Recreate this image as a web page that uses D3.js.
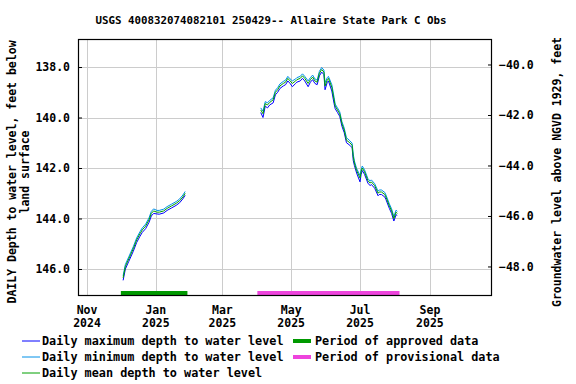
<!DOCTYPE html>
<html><head><meta charset="utf-8">
<script src="https://cdn.jsdelivr.net/npm/d3@7"></script>
<style>
body{margin:0;background:#fff;}
text{font-family:"DejaVu Sans Mono",monospace;font-weight:bold;font-size:11px;fill:#000;}
</style></head>
<body><svg id="c" width="576" height="384"></svg>
<script>
const title = "USGS 400832074082101 250429-- Allaire State Park C Obs";
const leftTicks = [138, 140, 142, 144, 146];
const rightTicks = [-40, -42, -44, -46, -48];
const monthTicks = ["2024-11-01","2025-01-01","2025-03-01","2025-05-01","2025-07-01","2025-09-01"];
const monthLabels = [["Nov","2024"],["Jan","2025"],["Mar","2025"],["May","2025"],["Jul","2025"],["Sep","2025"]];
const datum = 97.9;

const dates = [
 "2024-12-03","2024-12-05","2024-12-08","2024-12-12","2024-12-15","2024-12-18","2024-12-20","2024-12-23","2024-12-26","2024-12-28","2024-12-30",
 "2025-01-02","2025-01-04","2025-01-08","2025-01-11","2025-01-15","2025-01-19","2025-01-22","2025-01-25","2025-01-27",
 null,
 "2025-04-04","2025-04-06","2025-04-08","2025-04-10","2025-04-12","2025-04-15","2025-04-17","2025-04-19","2025-04-21","2025-04-24","2025-04-26","2025-04-28","2025-04-30",
 "2025-05-02","2025-05-05","2025-05-06","2025-05-09","2025-05-11","2025-05-13","2025-05-16","2025-05-18","2025-05-20","2025-05-22","2025-05-24","2025-05-26","2025-05-28","2025-05-30","2025-05-31",
 "2025-06-02","2025-06-03","2025-06-06","2025-06-08","2025-06-09","2025-06-11","2025-06-13","2025-06-15","2025-06-17","2025-06-19","2025-06-22","2025-06-24","2025-06-25","2025-06-26","2025-06-28",
 "2025-07-01","2025-07-02","2025-07-03","2025-07-05","2025-07-08","2025-07-10","2025-07-11","2025-07-14","2025-07-17","2025-07-18","2025-07-20","2025-07-23","2025-07-24","2025-07-27","2025-07-29","2025-07-31",
 "2025-08-02","2025-08-03"
];
const maxDepth = [
 146.45,146.0,145.7,145.3,144.95,144.7,144.55,144.4,144.15,143.9,143.8,
 143.82,143.83,143.78,143.68,143.58,143.48,143.38,143.22,143.08,
 null,
 139.8,140.0,139.55,139.62,139.5,139.42,139.1,139.0,138.85,138.75,138.7,138.55,138.65,
 138.78,138.65,138.6,138.55,138.45,138.55,138.78,138.6,138.5,138.65,138.7,138.35,138.2,138.3,138.9,
 138.6,138.55,138.95,139.45,139.65,139.8,139.95,140.35,140.6,141.0,141.1,141.2,141.7,141.9,142.2,
 142.55,142.25,142.1,142.25,142.6,142.7,142.65,142.8,143.1,143.05,143.05,143.15,143.25,143.6,143.8,144.1,
 143.85,143.88
];
const minDepth = [
 146.27,145.82,145.52,145.12,144.77,144.52,144.37,144.22,143.97,143.72,143.62,
 143.68,143.68,143.63,143.53,143.43,143.33,143.23,143.07,142.93,
 null,
 139.62,139.75,139.37,139.42,139.32,139.22,138.92,138.82,138.67,138.57,138.52,138.37,138.47,
 138.55,138.47,138.42,138.37,138.27,138.37,138.55,138.42,138.32,138.47,138.52,138.17,138.02,138.12,138.62,
 138.42,138.37,138.7,139.2,139.47,139.62,139.77,140.17,140.42,140.8,140.92,141.02,141.45,141.72,142.02,
 142.3,142.07,141.92,142.07,142.42,142.52,142.47,142.62,142.92,142.87,142.87,142.97,143.07,143.42,143.62,143.92,
 143.67,143.72
];
const meanDepth = [
 146.35,145.9,145.6,145.2,144.85,144.6,144.45,144.3,144.05,143.8,143.7,
 143.75,143.75,143.7,143.6,143.5,143.4,143.3,143.15,143.0,
 null,
 139.7,139.85,139.45,139.5,139.4,139.3,139.0,138.9,138.75,138.65,138.6,138.45,138.55,
 138.65,138.55,138.5,138.45,138.35,138.45,138.65,138.5,138.4,138.55,138.6,138.25,138.1,138.2,138.75,
 138.5,138.45,138.8,139.3,139.55,139.7,139.85,140.25,140.5,140.9,141.0,141.1,141.55,141.8,142.1,
 142.4,142.15,142.0,142.15,142.5,142.6,142.55,142.7,143.0,142.95,142.95,143.05,143.15,143.5,143.7,144.0,
 143.75,143.8
];
const approvedPeriods = [["2024-12-01","2025-01-29"]];
const provisionalPeriods = [["2025-04-01","2025-08-05"]];

const colors = {max:"#0000ff", min:"#0090e8", mean:"#00a000", approved:"#009900", provisional:"#ee44dd"};

const parse = d3.utcParse("%Y-%m-%d");
const L = 78, R = 492, T = 39, B = 296;
const svg = d3.select("#c");

const x = d3.scaleUtc().domain([parse("2024-10-24"), parse("2025-10-26")]).range([L, R]);
const y = d3.scaleLinear().domain([136.89, 147.07]).range([T, B]);
const yR = d3.scaleLinear().domain([datum - 136.89, datum - 147.07]).range([T, B]);

// grid
svg.append("g").selectAll("line").data(monthTicks).join("line")
  .attr("x1", d => Math.round(x(parse(d))) + 0.5).attr("x2", d => Math.round(x(parse(d))) + 0.5)
  .attr("y1", T).attr("y2", B).attr("stroke", "#cccccc").attr("stroke-width", 1);
svg.append("g").selectAll("line").data(leftTicks).join("line")
  .attr("x1", L).attr("x2", R).attr("y1", d => Math.round(y(d)) + 0.5).attr("y2", d => Math.round(y(d)) + 0.5)
  .attr("stroke", "#cccccc").attr("stroke-width", 1);

// period bars
const barY = 293;
svg.append("g").selectAll("line").data(approvedPeriods).join("line")
  .attr("x1", d => x(parse(d[0]))).attr("x2", d => x(parse(d[1])))
  .attr("y1", barY).attr("y2", barY).attr("stroke", colors.approved).attr("stroke-width", 4);
svg.append("g").selectAll("line").data(provisionalPeriods).join("line")
  .attr("x1", d => x(parse(d[0]))).attr("x2", d => x(parse(d[1])))
  .attr("y1", barY).attr("y2", barY).attr("stroke", colors.provisional).attr("stroke-width", 4);

// lines
function series(vals) {
  return dates.map((d, i) => ({d: d ? parse(d) : null, v: vals[i]}));
}
const line = d3.line().defined(p => p.d && p.v != null).x(p => x(p.d)).y(p => y(p.v));
[[maxDepth, colors.max], [minDepth, colors.min], [meanDepth, colors.mean]].forEach(([vals, c]) => {
  svg.append("path").datum(series(vals)).attr("d", line)
    .attr("fill", "none").attr("stroke", c).attr("stroke-width", 1);
});

// frame
svg.append("rect").attr("x", L + 0.5).attr("y", T + 0.5).attr("width", R - L - 1).attr("height", B - T - 1)
  .attr("fill", "none").attr("stroke", "#000").attr("stroke-width", 1.2);

// left axis
const la = svg.append("g").attr("transform", `translate(${L},0)`)
  .call(d3.axisRight(y).tickValues(leftTicks).tickSize(4).tickFormat(d3.format(".1f")));
la.select(".domain").remove();
la.selectAll("text").attr("x", -8).attr("text-anchor", "end");
// right axis
const ra = svg.append("g").attr("transform", `translate(${R},0)`)
  .call(d3.axisLeft(yR).tickValues(rightTicks).tickSize(4).tickFormat(d3.format(".1f")));
ra.select(".domain").remove();
ra.selectAll("text").attr("x", 7).attr("text-anchor", "start");
svg.selectAll(".tick line").attr("stroke", "#000");
svg.selectAll(".tick text").attr("fill", "#000").style("font-family", "DejaVu Sans Mono").style("font-weight", "bold").style("font-size", "11.5px");

// x labels
const xl = svg.append("g").selectAll("text").data(monthTicks).join("text")
  .attr("x", d => x(parse(d))).attr("text-anchor", "middle").style("font-size", "11.5px");
xl.append("tspan").attr("x", d => x(parse(d))).attr("y", 314).text((d, i) => monthLabels[i][0]);
xl.append("tspan").attr("x", d => x(parse(d))).attr("y", 327).text((d, i) => monthLabels[i][1]);

// title
svg.append("text").attr("x", 271).attr("y", 24).attr("text-anchor", "middle").style("font-size", "10.8px").text(title);

// axis titles
const cy = 172;
svg.append("text").attr("transform", `translate(16,${cy}) rotate(-90)`).attr("text-anchor", "middle").style("font-size", "11.5px")
  .text("DAILY Depth to water level, feet below");
svg.append("text").attr("transform", `translate(29,${cy}) rotate(-90)`).attr("text-anchor", "middle").style("font-size", "11.5px")
  .text("land surface");
svg.append("text").attr("transform", `translate(561,${cy}) rotate(-90)`).attr("text-anchor", "middle").style("font-size", "11.5px")
  .text("Groundwater level above NGVD 1929, feet");

// legend
const legFont = "11.8px";
const leg1 = [["Daily maximum depth to water level", colors.max], ["Daily minimum depth to water level", colors.min], ["Daily mean depth to water level", colors.mean]];
leg1.forEach(([t, c], i) => {
  const yy = 341 + i * 16;
  svg.append("line").attr("x1", 22).attr("x2", 40).attr("y1", yy).attr("y2", yy).attr("stroke", c).attr("stroke-width", 1);
  svg.append("text").attr("x", 42).attr("y", yy + 4).style("font-size", legFont).text(t);
});
const leg2 = [["Period of approved data", colors.approved], ["Period of provisional data", colors.provisional]];
leg2.forEach(([t, c], i) => {
  const yy = 341 + i * 16;
  svg.append("line").attr("x1", 293).attr("x2", 311).attr("y1", yy).attr("y2", yy).attr("stroke", c).attr("stroke-width", 4);
  svg.append("text").attr("x", 315).attr("y", yy + 4).style("font-size", legFont).text(t);
});
</script></body></html>
